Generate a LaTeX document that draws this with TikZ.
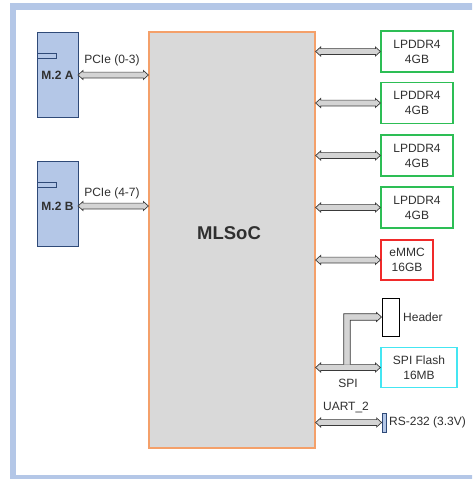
\documentclass[tikz,border=0pt]{standalone}
\usepackage{fontspec}
\setmainfont{Liberation Sans}
\usetikzlibrary{calc}
\definecolor{frame}{HTML}{B4C7E7}
\definecolor{m2fill}{HTML}{B4C7E7}
\definecolor{m2line}{HTML}{2F4A78}
\definecolor{socfill}{HTML}{D9D9D9}
\definecolor{socline}{HTML}{F4A06A}
\definecolor{grn}{HTML}{2DBE55}
\definecolor{redb}{HTML}{F02A2A}
\definecolor{cyanb}{HTML}{44E6F2}
\definecolor{arrfill}{HTML}{D4D4D4}
\definecolor{arrline}{HTML}{3A3A3A}
\definecolor{txt}{HTML}{303030}
\tikzset{
  box/.style={draw, line width=1.2pt, inner sep=0pt, text=txt, align=center, font=\fontsize{12}{15}\selectfont},
  m2/.style={draw=m2line, fill=m2fill, line width=1pt},
  lbl/.style={text=txt, inner sep=0pt, font=\fontsize{12}{15}\selectfont},
  arrowst/.style={fill=arrfill, draw=arrline, line width=0.7pt, line join=miter},
}
\newcommand\dblarrow[2]{%
  \filldraw[arrowst] let \p1=#1, \p2=#2 in
  (\x1,\y1) -- (\x1+5pt,\y1+4.5pt) -- (\x1+5pt,\y1+2.9pt) -- (\x2-5pt,\y1+2.9pt) -- (\x2-5pt,\y1+4.5pt) -- (\x2,\y1)
  -- (\x2-5pt,\y1-4.5pt) -- (\x2-5pt,\y1-2.9pt) -- (\x1+5pt,\y1-2.9pt) -- (\x1+5pt,\y1-4.5pt) -- cycle;}
\begin{document}
\begin{tikzpicture}[x=1pt,y=-1pt]
\useasboundingbox (0,0) rectangle (472,479);
\clip (0,0) rectangle (472,479);
\fill[white] (0,0) rectangle (472,479);
\draw[draw=frame, line width=6.5pt] (13,6.5) rectangle (520,478.5);

% M.2 slots
\draw[m2] (37,32) rectangle (78,117);
\node[coordinate] (m2a) at (78,75) {};
\draw[m2] (37,53) rectangle (56,58);
\node[lbl, font=\fontsize{12}{14}\selectfont\bfseries] (m2alab) at (57.5,75) {M.2 A};
\draw[m2] (37,161) rectangle (78,246);
\node[coordinate] (m2b) at (78,206) {};
\draw[m2] (37,182) rectangle (56,187);
\node[lbl, font=\fontsize{12}{14}\selectfont\bfseries] (m2blab) at (57.5,206) {M.2 B};

% SoC
\node[draw=socline, fill=socfill, line width=1.3pt, minimum width=166pt, minimum height=416pt, inner sep=0pt] (soc) at (232,240) {};
\node[lbl, font=\fontsize{18.5}{20}\selectfont\bfseries] (soclab) at (229,233) {MLSoC};

% memory boxes
\node[box, draw=grn, minimum width=72pt, minimum height=41pt] (l1) at (417,51.5) {LPDDR4\\4GB};
\node[box, draw=grn, minimum width=72pt, minimum height=41pt] (l2) at (417,103) {LPDDR4\\4GB};
\node[box, draw=grn, minimum width=72pt, minimum height=41pt] (l3) at (417,155.5) {LPDDR4\\4GB};
\node[box, draw=grn, minimum width=72pt, minimum height=41pt] (l4) at (417,207.5) {LPDDR4\\4GB};
\node[box, draw=redb, minimum width=52pt, minimum height=40pt] (emmc) at (407,260) {eMMC\\16GB};
\node[box, draw=black, line width=1pt, minimum width=17pt, minimum height=38pt] (hdr) at (390.5,317) {};
\node[lbl, anchor=west] (hdrlab) at (403,317) {Header};
\node[box, draw=cyanb, minimum width=76pt, minimum height=40pt] (flash) at (419,367.5) {SPI Flash\\16MB};
\node[draw=m2line, fill=m2fill, line width=0.8pt, minimum width=4pt, minimum height=19pt, inner sep=0pt] (rs) at (384,422.5) {};
\node[lbl, anchor=west] (rslab) at (389,422.5) {RS-232 (3.3V)};

% arrows
\dblarrow{(m2a)}{(soc.west |- m2a)}
\dblarrow{(m2b)}{(soc.west |- m2b)}
\dblarrow{(soc.east |- l1.west)}{(l1.west)}
\dblarrow{(soc.east |- l2.west)}{(l2.west)}
\dblarrow{(soc.east |- l3.west)}{(l3.west)}
\dblarrow{(soc.east |- l4.west)}{(l4.west)}
\dblarrow{(soc.east |- emmc.west)}{(emmc.west)}
\dblarrow{(soc.east |- flash.west)}{(flash.west)}
\dblarrow{(soc.east |- rs.west)}{(rs.west)}

% SPI branch to header
\coordinate (spibr) at (347,367.5);
\path let \p1=(spibr), \p2=(hdr.west) in
  coordinate (b1) at (\x1-3.3pt,\y1+2.9pt)
  coordinate (b2) at (\x1-3.3pt,\y2+3.3pt)
  coordinate (b3) at (\x2-5pt,\y2+3.3pt)
  coordinate (b4) at (\x2-5pt,\y2+4.5pt)
  coordinate (b5) at (\x2,\y2)
  coordinate (b6) at (\x2-5pt,\y2-4.5pt)
  coordinate (b7) at (\x2-5pt,\y2-3.3pt)
  coordinate (b8) at (\x1+3.3pt,\y2-3.3pt)
  coordinate (b9) at (\x1+3.3pt,\y1+2.9pt);
\fill[arrfill] (b1) -- (b2) -- (b3) -- (b4) -- (b5) -- (b6) -- (b7) -- (b8) -- (b9) -- cycle;
\draw[arrowst, fill=none] (b1) -- (b2) -- (b3) -- (b4) -- (b5) -- (b6) -- (b7) -- (b8) -- (b9);

% labels
\node[lbl] (pcie1) at (112,60) {PCIe (0-3)};
\node[lbl] (pcie2) at (112,193) {PCIe (4-7)};
\node[lbl] (spilab) at (348,383) {SPI};
\node[lbl] (uartlab) at (346,407) {UART\_2};
\end{tikzpicture}
\end{document}
